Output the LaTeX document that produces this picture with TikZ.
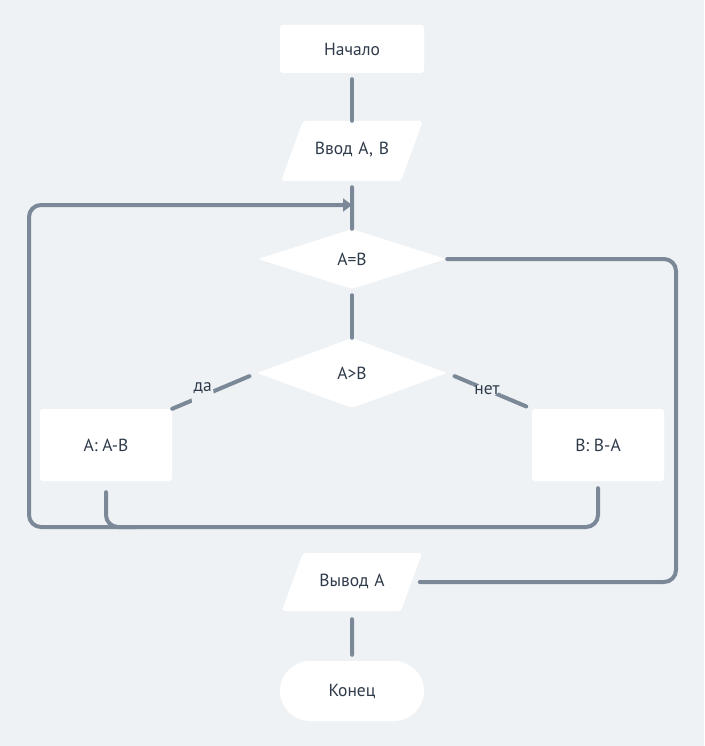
\documentclass[tikz,border=0pt]{standalone}
\usepackage{fontspec}
\setmainfont{PT Sans}
\usetikzlibrary{shapes.geometric,arrows.meta}
\definecolor{bgcol}{HTML}{EFF2F5}
\definecolor{linecol}{HTML}{7A8897}
\definecolor{txtcol}{HTML}{2F3B4A}
\tikzset{
  block/.style={fill=white, text=txtcol, font=\fontsize{17.5}{20}\selectfont, inner sep=0pt},
  proc/.style={block, rectangle, rounded corners=3pt, minimum width=132pt, minimum height=72pt},
  term/.style={block, rectangle, rounded corners=3pt, minimum width=144pt, minimum height=48pt},
  io/.style={block, trapezium, trapezium left angle=70, trapezium right angle=110,
    rounded corners=3pt, text width=98pt, align=center, text height=12pt, text depth=4pt,
    inner xsep=0pt, inner ysep=22pt},
  cond/.style={block, diamond, rounded corners=2pt, minimum width=188pt, minimum height=60pt},
  link/.style={draw=linecol, line width=4pt, line cap=round, rounded corners=12pt},
  lbl/.style={fill=bgcol, text=txtcol, font=\fontsize{17.5}{20}\selectfont, inner sep=2pt}
}
\begin{document}
\begin{tikzpicture}[x=1pt, y=-1pt, >={Triangle[length=9pt,width=13pt]}]
\fill[bgcol] (0,0) rectangle (704,746);
\useasboundingbox (0,0) rectangle (704,746);

\node[term] (start) at (352,49) {Начало};
\node[io] (input) at (352,151) {Ввод A, B};
\node[cond] (eq) at (352,259) {A=B};
\node[cond, minimum width=190pt, minimum height=70pt] (gt) at (352,373) {A>B};
\node[proc] (boxA) at (106,445) {A: A-B};
\node[proc] (boxB) at (598,445) {B: B-A};
\node[io, inner ysep=21pt] (output) at (352,582) {Вывод A};
\node[term, rounded corners=30pt, minimum height=60pt] (stop) at (352,691) {Конец};

\coordinate (join) at (352,205);
\coordinate (lowL) at (29,527);
\coordinate (edgeR) at (676,259);

\draw[link, shorten <=6pt] (start) -- (input);
\draw[link, shorten <=6pt] (input) -- (eq);
\draw[link, shorten <=6pt] (eq) -- (gt);
\draw[link, shorten <=8pt] (gt.west) -- node[lbl, pos=.64]{\raisebox{17pt}{да}} (boxA.north east);
\draw[link, shorten <=8pt, shorten >=6pt] (gt.east) -- node[lbl, pos=.47]{\raisebox{-4pt}{нет}} (boxB.north west);
\draw[link, ->] ([yshift=-7pt]boxB.south) |- (lowL) |- (join);
\draw[link] ([yshift=-11pt]boxA.south) |- ([xshift=30pt]boxA |- lowL);
\draw[link] ([xshift=1pt]eq.east) -| (edgeR |- output) -- ([xshift=8pt]output.east);
\draw[link, shorten <=8pt, shorten >=6pt] (output) -- (stop);

\end{tikzpicture}
\end{document}
